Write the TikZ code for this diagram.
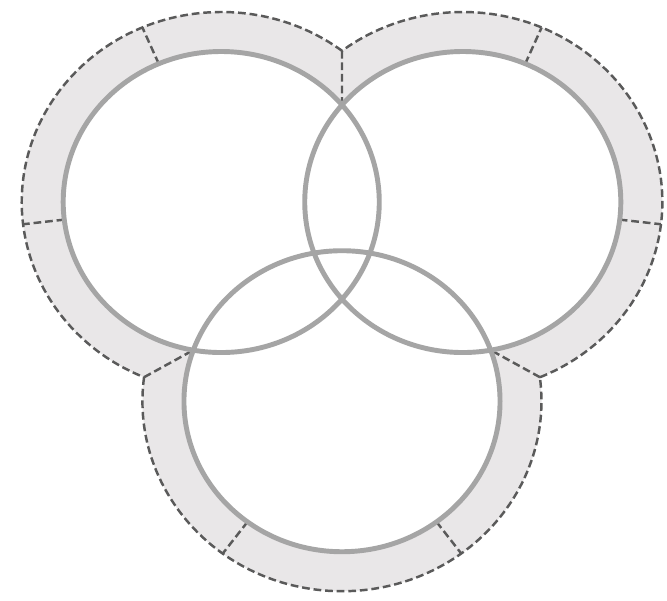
\documentclass[tikz,border=0pt]{standalone}
\usepackage{tikz}
\usetikzlibrary{calc}
\usepackage{xcolor}
\definecolor{bandgray}{RGB}{233,231,232}
\definecolor{ringgray}{RGB}{165,165,165}
\definecolor{dashgray}{RGB}{90,90,90}

\begin{document}
\begin{tikzpicture}[xscale=1.05,
  ring/.style={ringgray,line width=1.4pt},
  rim/.style={dashgray,line width=0.7pt,dash pattern=on 2.2pt off 1.1pt}]
\useasboundingbox[fill=white] (-3.257,-3.98) rectangle (3.095,2.02);
\coordinate (cl) at (-1.15,0);
\coordinate (cr) at (1.15,0);
\coordinate (cb) at (0,-1.992);
\coordinate (olr) at ($(cl)+(52.75:1.9)$);
\coordinate (ilr) at ($(cl)+(40.17:1.505)$);
\coordinate (olb) at ($(cl)+(247.25:1.9)$);
\coordinate (ilb) at ($(cl)+(259.83:1.505)$);
\coordinate (orb) at ($(cr)+(-67.25:1.9)$);
\coordinate (irb) at ($(cr)+(-79.83:1.505)$);
\fill[bandgray] (cl) circle (1.9) (cr) circle (1.9) (cb) circle (1.9);
\fill[white] (cl) circle (1.505) (cr) circle (1.505) (cb) circle (1.505);
\draw[rim] (olr) arc[start angle=52.75,end angle=247.25,radius=1.9];
\draw[rim] (orb) arc[start angle=-67.25,end angle=127.25,radius=1.9];
\draw[rim] (olb) arc[start angle=172.75,end angle=367.25,radius=1.9];
\draw[rim] (olr) -- (ilr);
\draw[rim] (olb) -- (ilb);
\draw[rim] (orb) -- (irb);
\draw[rim] ($(cl)+(113.28:1.505)$) -- ($(cl)+(113.28:1.9)$);
\draw[rim] ($(cl)+(186.72:1.505)$) -- ($(cl)+(186.72:1.9)$);
\draw[rim] ($(cr)+(66.72:1.505)$) -- ($(cr)+(66.72:1.9)$);
\draw[rim] ($(cr)+(-6.72:1.505)$) -- ($(cr)+(-6.72:1.9)$);
\draw[rim] ($(cb)+(233.28:1.505)$) -- ($(cb)+(233.28:1.9)$);
\draw[rim] ($(cb)+(306.72:1.505)$) -- ($(cb)+(306.72:1.9)$);
\draw[ring] (cl) circle (1.505);
\draw[ring] (cr) circle (1.505);
\draw[ring] (cb) circle (1.505);
\end{tikzpicture}
\end{document}
